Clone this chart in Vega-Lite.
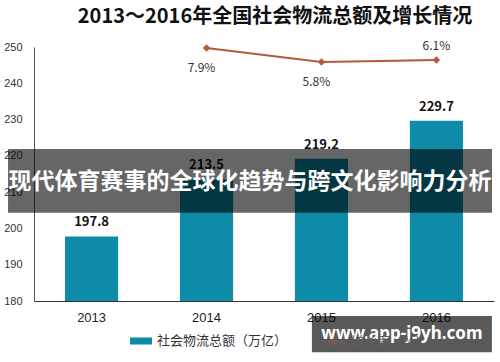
{
  "$schema": "https://vega.github.io/schema/vega-lite/v6.json",
  "width": 460,
  "height": 254,
  "autosize": {"type": "none"},
  "padding": {"left": 34, "top": 47, "right": 6, "bottom": 61},
  "background": "white",
  "config": {"view": {"stroke": null}, "font": "Noto Sans CJK SC", "axisY": {"tickCount": 8, "labelOverlap": false}},
  "title": {
    "text": "2013～2016年全国社会物流总额及增长情况",
    "fontSize": 20,
    "fontWeight": "bold",
    "color": "#111111",
    "anchor": "middle",
    "dx": 11,
    "offset": 13,
    "font": "Noto Sans CJK SC"
  },
  "data": {
    "values": [
      {"year": "2013", "total": 197.8, "growth": null, "growthText": null},
      {"year": "2014", "total": 213.5, "growth": 7.9, "growthText": "7.9%"},
      {"year": "2015", "total": 219.2, "growth": 5.8, "growthText": "5.8%"},
      {"year": "2016", "total": 229.7, "growth": 6.1, "growthText": "6.1%"}
    ]
  },
  "layer": [
    {
      "encoding": {
        "x": {
          "field": "year",
          "type": "nominal",
          "scale": {"paddingInner": 0.538, "paddingOuter": 0.27},
          "axis": {
            "title": null,
            "labelAngle": 0,
            "ticks": false,
            "domainColor": "#333333",
            "labelColor": "#222222",
            "labelFontSize": 13,
            "labelFont": "Liberation Sans",
            "labelPadding": 10
          }
        },
        "y": {
          "field": "total",
          "type": "quantitative",
          "scale": {"domain": [180, 250], "zero": false, "nice": false},
          "axis": {
            "title": null,
            "values": [180, 190, 200, 210, 220, 230, 240, 250],
            "labelOverlap": false,
            "grid": false,
            "ticks": false,
            "domainColor": "#555555",
            "labelColor": "#333333",
            "labelFontSize": 11,
            "labelFont": "Liberation Sans",
            "labelPadding": 12
          }
        }
      },
      "layer": [
        {
          "mark": {"type": "bar"},
          "encoding": {
            "y2": {"datum": 180},
            "color": {
              "datum": "社会物流总额（万亿）",
              "scale": {"range": ["#0E8BA9"]},
              "legend": {
                "title": null,
                "orient": "none",
                "legendX": 96,
                "legendY": 283,
                "symbolType": "M-1,-0.32H1V0.32H-1Z",
                "symbolSize": 484,
                "symbolStrokeWidth": 0,
                "symbolOpacity": 1,
                "labelFontSize": 13,
                "labelColor": "#333333",
                "labelOffset": 5,
                "labelFont": "Noto Sans CJK SC"
              }
            }
          }
        },
        {
          "mark": {"type": "text", "baseline": "bottom", "dy": -7, "fontSize": 13, "fontWeight": "bold", "color": "#111111", "font": "Noto Sans CJK SC"},
          "encoding": {
            "text": {"field": "total", "type": "quantitative", "format": ".1f"}
          }
        }
      ]
    },
    {
      "transform": [{"filter": "datum.growth != null"}],
      "encoding": {
        "x": {"field": "year", "type": "nominal"},
        "y": {
          "field": "growth",
          "type": "quantitative",
          "scale": {"domain": [-29.9, 8.05], "zero": false, "nice": false},
          "axis": null
        }
      },
      "layer": [
        {
          "mark": {"type": "line", "strokeWidth": 2, "point": {"shape": "diamond", "filled": true, "size": 55}},
          "encoding": {
            "color": {
              "datum": "增长率（%）",
              "scale": {"range": ["#B8573D"]},
              "legend": {
                "title": null,
                "orient": "none",
                "legendX": 288,
                "legendY": 283,
                "symbolType": "M-1,0H1M-0.3,0L0,-0.3L0.3,0L0,0.3Z",
                "symbolSize": 484,
                "symbolStrokeWidth": 2,
                "symbolOpacity": 0.3,
                "labelFontSize": 13,
                "labelColor": "#5f5f5f",
                "labelOffset": 5,
                "labelFont": "Noto Sans CJK SC"
              }
            }
          }
        },
        {
          "transform": [{"filter": "datum.year != '2016'"}],
          "mark": {"type": "text", "baseline": "middle", "dy": 20, "dx": -5, "fontSize": 12, "color": "#333333", "font": "Noto Sans CJK SC"},
          "encoding": {
            "text": {"field": "growthText", "type": "nominal"}
          }
        },
        {
          "transform": [{"filter": "datum.year == '2016'"}],
          "mark": {"type": "text", "baseline": "middle", "dy": -14, "fontSize": 12, "color": "#333333", "font": "Noto Sans CJK SC"},
          "encoding": {
            "text": {"field": "growthText", "type": "nominal"}
          }
        }
      ]
    },
    {
      "data": {"values": [{"banner": "现代体育赛事的全球化趋势与跨文化影响力分析", "site": "www.app-j9yh.com"}]},
      "layer": [
        {
          "mark": {"type": "bar", "width": 484, "xOffset": 43.5, "color": "#000000", "opacity": 0.6},
          "encoding": {
            "x": {"datum": "2014", "type": "nominal"},
            "y": {"datum": 221.9, "type": "quantitative", "scale": {"domain": [180, 250], "zero": false, "nice": false}, "axis": null},
            "y2": {"datum": 204.3}
          }
        },
        {
          "mark": {"type": "text", "dx": 43.5, "baseline": "middle", "align": "center", "fontSize": 23, "fontWeight": "bold", "color": "#ffffff", "font": "Noto Sans CJK SC"},
          "encoding": {
            "x": {"datum": "2014", "type": "nominal"},
            "y": {"datum": 212.8, "type": "quantitative"},
            "text": {"field": "banner", "type": "nominal"}
          }
        },
        {
          "mark": {"type": "bar", "width": 180, "xOffset": -34.5, "color": "#000000", "opacity": 0.65},
          "encoding": {
            "x": {"datum": "2016", "type": "nominal"},
            "y": {"datum": 175.9, "type": "quantitative"},
            "y2": {"datum": 165.9}
          }
        },
        {
          "mark": {"type": "text", "dx": -34.5, "baseline": "middle", "align": "center", "fontSize": 17, "fontWeight": "bold", "color": "#ffffff", "font": "Noto Sans"},
          "encoding": {
            "x": {"datum": "2016", "type": "nominal"},
            "y": {"datum": 170.9, "type": "quantitative"},
            "text": {"field": "site", "type": "nominal"}
          }
        }
      ]
    }
  ],
  "resolve": {"scale": {"y": "independent", "color": "independent"}}
}
